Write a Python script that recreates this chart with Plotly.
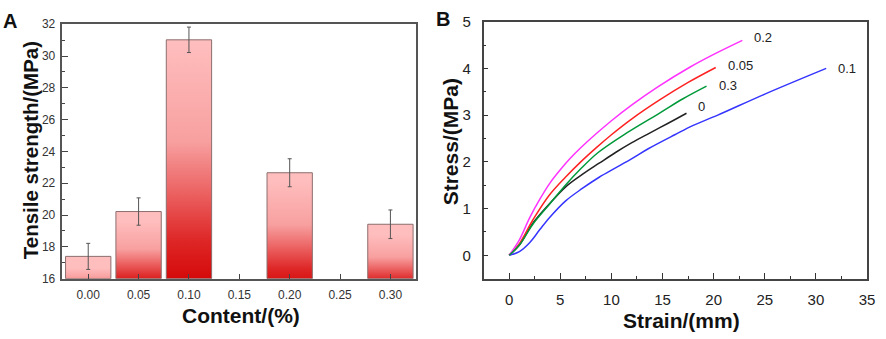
import plotly.graph_objects as go

# ---------------- Panel A data ----------------
content = [0.00, 0.05, 0.10, 0.20, 0.30]
strength = [17.4, 20.22, 31.02, 22.66, 19.42]
strength_err = [0.82, 0.86, 0.80, 0.88, 0.90]
bar_width = 0.045
base_a = 16

# ---------------- Panel B data ----------------
strain_0 = [0, 1, 2.3, 3.9, 5.5, 7.15, 8.8, 10.4, 12, 13.6, 15.5, 17.34]
stress_0 = [0, 0.22, 0.68, 1.09, 1.46, 1.73, 1.97, 2.2, 2.41, 2.6, 2.82, 3.04]

strain_005 = [0, 1, 2.3, 3.9, 5.5, 7, 8.5, 10, 12, 14.75, 17.5, 20.2]
stress_005 = [0, 0.25, 0.75, 1.28, 1.67, 2.0, 2.3, 2.58, 2.92, 3.33, 3.7, 4.02]

strain_01 = [0, 1, 2, 3, 4, 5.5, 7.15, 8.8, 10.4, 12, 13.6, 16.2, 18, 20.4, 25, 31]
stress_01 = [0, 0.08, 0.27, 0.55, 0.82, 1.16, 1.43, 1.67, 1.87, 2.07, 2.28, 2.58, 2.78, 3.0, 3.45, 4.0]

strain_02 = [0, 1, 2, 3, 4, 5, 6, 7, 8.5, 10, 12, 14.5, 17.7, 20, 22.8]
stress_02 = [0, 0.33, 0.8, 1.2, 1.55, 1.83, 2.08, 2.3, 2.6, 2.88, 3.22, 3.6, 4.03, 4.3, 4.6]

strain_03 = [0, 1, 2.3, 3.9, 5.5, 7, 8.7, 11.5, 14.75, 17, 19.3]
stress_03 = [0, 0.22, 0.66, 1.08, 1.5, 1.85, 2.2, 2.62, 3.05, 3.35, 3.62]

series_names = ["0", "0.05", "0.1", "0.2", "0.3"]
series_x = [strain_0, strain_005, strain_01, strain_02, strain_03]
series_y = [stress_0, stress_005, stress_01, stress_02, stress_03]
series_colors = ["#222222", "#ff2222", "#3535ff", "#ff33ff", "#00993a"]
label_yshift = [7, 2, 0, 3, 1]

FONT = "Liberation Sans, Arial, sans-serif"
W, H = 886, 339

fig = go.Figure()

# gradient bars (panel A)
grad = [[0.0, "rgb(210,0,0)"], [0.2, "rgb(222,38,38)"], [0.4, "rgb(236,100,100)"],
        [0.6, "rgb(248,160,160)"], [1.0, "rgb(255,190,190)"]]
for xc, v in zip(content, strength):
    xl, xr = xc - bar_width / 2, xc + bar_width / 2
    fig.add_trace(go.Scatter(
        x=[xl, xl, xr, xr, xl], y=[base_a, v, v, base_a, base_a],
        mode="lines", fill="toself",
        fillgradient=dict(type="vertical", colorscale=grad, start=base_a, stop=v),
        line=dict(color="#8c6e6e", width=1),
        xaxis="x", yaxis="y", showlegend=False, hoverinfo="skip"))

fig.add_trace(go.Scatter(
    x=content, y=strength, mode="markers",
    marker=dict(size=1, opacity=0),
    error_y=dict(type="data", array=strength_err, color="#555555", thickness=1, width=2),
    xaxis="x", yaxis="y", showlegend=False))

# curves (panel B)
for name, xs, ys, c, ysh in zip(series_names, series_x, series_y, series_colors, label_yshift):
    fig.add_trace(go.Scatter(x=xs, y=ys, mode="lines", line=dict(color=c, width=1.5, shape="spline"),
                             xaxis="x2", yaxis="y2", showlegend=False))
    fig.add_annotation(x=xs[-1], y=ys[-1], xref="x2", yref="y2", text=name, showarrow=False,
                       xanchor="left", yanchor="middle", xshift=10, yshift=ysh,
                       font=dict(family=FONT, size=13, color="#222"))

axis_common = dict(showgrid=False, zeroline=False, showline=True, mirror=True, ticks="inside")

fig.update_layout(
    width=W, height=H, margin=dict(l=0, r=0, t=0, b=0),
    paper_bgcolor="white", plot_bgcolor="white",
    font=dict(family=FONT),
    xaxis=dict(domain=[63 / W, 420 / W], range=[-0.0256, 0.3256], tick0=0, dtick=0.05,
               tickformat=".2f", ticklen=5, tickwidth=1, tickcolor="#444",
               linecolor="#555", linewidth=1.5,
               tickfont=dict(size=12, color="#333"), ticklabelstandoff=4,
               anchor="y", **axis_common),
    yaxis=dict(domain=[1 - 283 / H, 1 - 16 / H], range=[16, 32], dtick=2,
               ticklen=6, tickwidth=1, tickcolor="#444",
               linecolor="#555", linewidth=1.5,
               minor=dict(dtick=1, ticks="inside", ticklen=3, tickcolor="#444"),
               tickfont=dict(size=12, color="#333"), ticklabelstandoff=3,
               anchor="x", **axis_common),
    xaxis2=dict(domain=[488 / W, 875 / W], range=[-2.5, 35], dtick=5, tick0=0,
                ticklen=6, tickwidth=1, tickcolor="#333",
                linecolor="#444", linewidth=1.5,
                minor=dict(dtick=2.5, ticks="inside", ticklen=3, tickcolor="#333"),
                tickfont=dict(size=15, color="#222"), ticklabelstandoff=7,
                ticklabeloverflow="allow",
                anchor="y2", **axis_common),
    yaxis2=dict(domain=[1 - 283 / H, 1 - 13.3 / H], range=[-0.5, 5], dtick=1, tick0=0,
                ticklen=5, tickwidth=1, tickcolor="#333",
                linecolor="#444", linewidth=1.5,
                minor=dict(dtick=0.5, ticks="inside", ticklen=3, tickcolor="#333"),
                tickfont=dict(size=15, color="#222"), ticklabelstandoff=8,
                anchor="x2", **axis_common),
)

def ann(px, py, text, size, angle=0, weight="bold"):
    fig.add_annotation(x=px / W, y=1 - py / H, xref="paper", yref="paper", text=text,
                       showarrow=False, xanchor="center", yanchor="middle", textangle=angle,
                       font=dict(family=FONT, size=size, color="#111", weight=weight))

ann(243, 322, "Content/(%)", 21)
ann(31, 148.5, "Tensile strength/(MPa)", 20.5, angle=-90)
ann(688, 327, "Strain/(mm)", 21)
ann(455, 139, "Stress/(MPa)", 21, angle=-90)
ann(10, 13, "A", 20)
ann(447, 10, "B", 20)

fig.write_html("out.html", config={"displayModeBar": False},
               post_script="document.body.style.margin='0px';")
